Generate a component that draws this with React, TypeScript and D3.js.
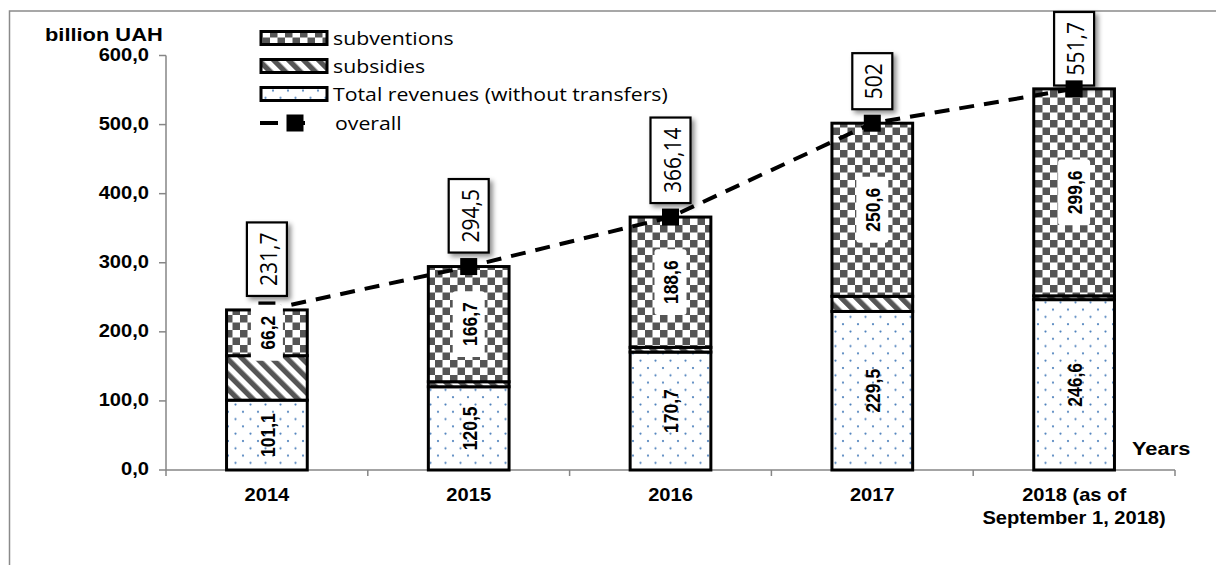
import React from "react";
import * as d3 from "d3";

const categories = ["2014", "2015", "2016", "2017", "2018"];
const categoryLabelLines = [["2014"], ["2015"], ["2016"], ["2017"], ["2018 (as of", "September 1, 2018)"]];
const revenues = [101.1, 120.5, 170.7, 229.5, 246.6];
const subsidies = [64.4, 7.3, 6.84, 21.9, 5.5];
const subventions = [66.2, 166.7, 188.6, 250.6, 299.6];
const overall = [231.7, 294.5, 366.14, 502, 551.7];
const yTicks = [0, 100, 200, 300, 400, 500, 600];
const legendItems = ["subventions", "subsidies", "Total revenues (without transfers)", "overall"];

const W = 1216;
const H = 565;
const SX = 1.15;
const ARIAL = "'Liberation Sans', Arial, sans-serif";
const CAL = "'Open Sans', sans-serif";

const comma = (v: number) => String(v).replace(".", ",");
const fmt1 = (v: number) => d3.format(".1f")(v).replace(".", ",");

function T(props: any) {
  const { x, y, rot, anchor = "middle", size, weight = "normal", family = ARIAL, children, baseline } = props;
  const tr = `translate(${x},${y}) scale(${SX},1)` + (rot ? ` rotate(${rot})` : "");
  return (
    <text transform={tr} textAnchor={anchor} fontSize={size} fontWeight={weight} fontFamily={family}
      dominantBaseline={baseline} fill="#000">
      {children}
    </text>
  );
}

function estArial(s: string, size: number) {
  let w = 0;
  for (const c of s) w += c === "," ? 0.278 : 0.556;
  return w * size;
}
function estCal(s: string, size: number) {
  let w = 0;
  for (const c of s) w += c === "," ? 0.26 : 0.572;
  return w * size;
}

export default function App() {
  const x = d3.scaleBand<string>().domain(categories).range([166, 1175]).paddingInner(0.6).paddingOuter(0.3);
  const y = d3.scaleLinear().domain([0, 600]).range([470, 55.5]);
  const bw = x.bandwidth();
  const step = x.step();
  const cx = (i: number) => (x(categories[i]) as number) + bw / 2;

  const stackData = categories.map((c, i) => ({ cat: c, rev: revenues[i], sub: subsidies[i], subv: subventions[i] }));
  const stack = d3.stack<any>().keys(["rev", "sub", "subv"])(stackData);
  const fills: Record<string, string> = { rev: "url(#dots)", sub: "url(#stripes)", subv: "url(#checker)" };

  const line = d3.line<number>().x((_, i) => cx(i)).y((d) => y(d));

  const barLabelSize = 17.5;
  const boxFont = 21;

  return (
    <svg width={W} height={H} style={{ position: "absolute", left: 0, top: 0, background: "#fff" }}>
      <defs>
        <pattern id="dots" width={15} height={14.6} patternUnits="userSpaceOnUse">
          <rect width={15} height={14.6} fill="#fff" />
          <circle cx={3} cy={3} r={1.1} fill="#4a7ebb" />
          <circle cx={10.5} cy={10.3} r={1.1} fill="#4a7ebb" />
        </pattern>
        <pattern id="checker" width={15} height={15} patternUnits="userSpaceOnUse">
          <rect width={15} height={15} fill="#fff" />
          <rect x={0} y={0} width={7.5} height={7.5} fill="#555" />
          <rect x={7.5} y={7.5} width={7.5} height={7.5} fill="#555" />
        </pattern>
        <pattern id="stripes" width={10.6} height={10.6} patternUnits="userSpaceOnUse" patternTransform="rotate(-45)">
          <rect width={10.6} height={10.6} fill="#fff" />
          <rect x={0} y={0} width={5.3} height={10.6} fill="#555" />
        </pattern>
        <filter id="sh" x="-40%" y="-30%" width="180%" height="160%">
          <feDropShadow dx={3} dy={3} stdDeviation={2.5} floodColor="#000" floodOpacity={0.45} />
        </filter>
      </defs>

      <rect x={9.5} y={11} width={1400} height={1000} fill="none" stroke="#8a8a8a" strokeWidth={1.5} />

      {/* axes */}
      <line x1={166} x2={166} y1={y(600)} y2={y(0)} stroke="#868686" strokeWidth={1.5} />
      {yTicks.map((t) => (
        <g key={t}>
          <line x1={159} x2={166} y1={y(t)} y2={y(t)} stroke="#868686" strokeWidth={1.5} />
          <T x={149} y={y(t) - 1} anchor="end" size={17.5} weight="bold" baseline="central">{fmt1(t)}</T>
        </g>
      ))}
      <line x1={166} x2={1175} y1={y(0)} y2={y(0)} stroke="#868686" strokeWidth={1.5} />
      {d3.range(categories.length + 1).map((i) => (
        <line key={i} x1={166 + i * step} x2={166 + i * step} y1={y(0)} y2={y(0) + 6} stroke="#868686" strokeWidth={1.5} />
      ))}
      {categoryLabelLines.map((lines, i) =>
        lines.map((l, j) => (
          <T key={i + "-" + j} x={cx(i)} y={501 + j * 22.5} size={17.5} weight="bold">{l}</T>
        ))
      )}
      <T x={45} y={41} anchor="start" size={19} weight="bold">billion UAH</T>
      <T x={1132} y={455} anchor="start" size={19} weight="bold">Years</T>

      {/* bars */}
      {stack.map((s) => (
        <g key={s.key}>
          {s.map((d: any, i: number) => (
            <rect key={i} x={x(categories[i])} width={bw} y={y(d[1])} height={y(d[0]) - y(d[1])}
              fill={fills[s.key]} stroke="#000" strokeWidth={3} />
          ))}
        </g>
      ))}

      {/* overall line */}
      <path d={line(overall) as string} fill="none" stroke="#000" strokeWidth={4} strokeDasharray="15 10" />

      {/* overall label boxes */}
      {overall.map((v, i) => {
        const s = comma(v);
        const h = estCal(s, boxFont) + 20;
        let bottom = y(v) - 14;
        let top = bottom - h;
        if (top < 12) { top = 12; bottom = top + h; }
        return (
          <g key={i}>
            <rect x={cx(i) - 20} y={top} width={40} height={h} fill="#fff" stroke="#000" strokeWidth={2.2} filter="url(#sh)" />
            <T x={cx(i) + 1} y={(top + bottom) / 2} rot={-90} size={boxFont} family={CAL} baseline="central">{s}</T>
          </g>
        );
      })}

      {/* markers */}
      {overall.map((v, i) => (
        <rect key={i} x={cx(i) - 8.5} y={y(v) - 8.5} width={17} height={17} fill="#000" />
      ))}

      {/* bar labels */}
      {revenues.map((v, i) => (
        <T key={"r" + i} x={cx(i) + 1} y={(y(0) + y(v)) / 2} rot={-90} size={barLabelSize} weight="bold" baseline="central">{fmt1(v)}</T>
      ))}
      {subventions.map((v, i) => {
        const base = revenues[i] + subsidies[i];
        const mid = (y(base) + y(base + v)) / 2;
        const s = fmt1(v);
        const h = estArial(s, barLabelSize) + 22;
        return (
          <g key={"s" + i}>
            <rect x={cx(i) - 16} y={mid - h / 2} width={32} height={h} rx={3} fill="#fff" />
            <T x={cx(i) + 1} y={mid} rot={-90} size={barLabelSize} weight="bold" baseline="central">{s}</T>
          </g>
        );
      })}

      {/* legend */}
      {legendItems.map((name, i) => {
        const ry = [38, 66, 94, 123][i];
        const f = ["url(#checker)", "url(#stripes)", "url(#dots)"][i];
        return (
          <g key={name}>
            {i < 3 ? (
              <rect x={261} y={ry - 6.5} width={66} height={13} fill={f} stroke="#000" strokeWidth={3} />
            ) : (
              <g>
                <line x1={260} x2={313} y1={ry} y2={ry} stroke="#000" strokeWidth={4} strokeDasharray="18 9" />
                <rect x={286.5} y={ry - 8.5} width={17} height={17} fill="#000" />
              </g>
            )}
            <T x={i < 3 ? 333 : 335} y={ry} anchor="start" size={18.5} family={CAL} baseline="central">{name}</T>
          </g>
        );
      })}
    </svg>
  );
}
